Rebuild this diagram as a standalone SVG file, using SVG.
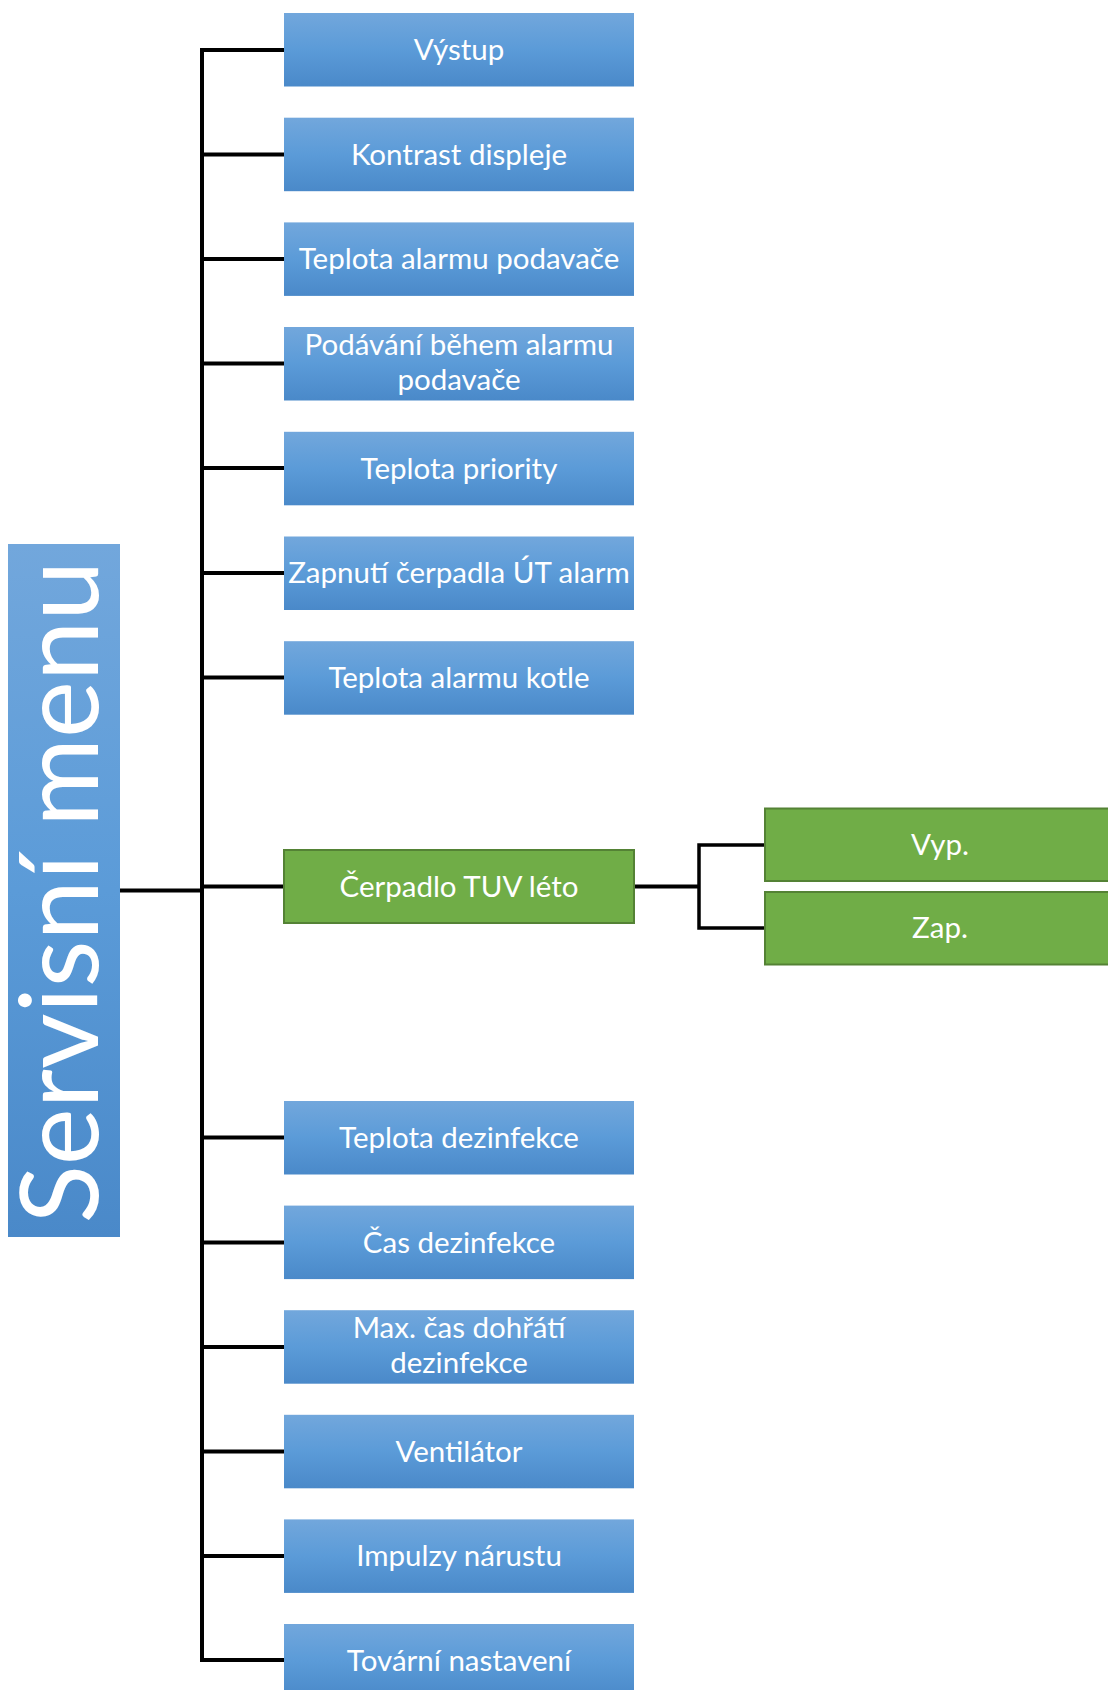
<svg xmlns="http://www.w3.org/2000/svg" width="1108" height="1690" viewBox="0 0 1108 1690">
<defs>
<linearGradient id="blue" x1="0" y1="0" x2="0" y2="1">
<stop offset="0" stop-color="#72a7dc"/>
<stop offset="0.5" stop-color="#5b9bd8"/>
<stop offset="1" stop-color="#4a89c9"/>
</linearGradient>
</defs>
<style>
.b{fill:url(#blue)}
.g{fill:#70ad47;stroke:#548235;stroke-width:2}
.t{fill:#fff;font-family:Lato,"Open Sans",sans-serif;font-size:29.5px;text-anchor:middle}
.big{fill:#fff;font-family:Lato,"Open Sans",sans-serif;font-size:108px;text-anchor:middle}
.c{fill:none;stroke:#000;stroke-width:4}
.c2{fill:none;stroke:#000;stroke-width:3.5}
</style>
<rect width="1108" height="1690" fill="#fff"/>
<g id="connectors">
<line class="c" x1="202" y1="48" x2="202" y2="1662"/>
<line class="c" x1="120" y1="890.5" x2="202" y2="890.5"/>
<line class="c" x1="200" y1="50" x2="284" y2="50"/>
<line class="c" x1="202" y1="154.5" x2="284" y2="154.5"/>
<line class="c" x1="202" y1="259" x2="284" y2="259"/>
<line class="c" x1="202" y1="363.5" x2="284" y2="363.5"/>
<line class="c" x1="202" y1="468" x2="284" y2="468"/>
<line class="c" x1="202" y1="573" x2="284" y2="573"/>
<line class="c" x1="202" y1="677.5" x2="284" y2="677.5"/>
<line class="c" x1="202" y1="886.5" x2="284" y2="886.5"/>
<line class="c" x1="202" y1="1137.5" x2="284" y2="1137.5"/>
<line class="c" x1="202" y1="1242.5" x2="284" y2="1242.5"/>
<line class="c" x1="202" y1="1347" x2="284" y2="1347"/>
<line class="c" x1="202" y1="1451.5" x2="284" y2="1451.5"/>
<line class="c" x1="202" y1="1556" x2="284" y2="1556"/>
<line class="c" x1="200" y1="1660" x2="284" y2="1660"/>
<line class="c" x1="634" y1="886.5" x2="699" y2="886.5"/>
<polyline class="c2" points="764,845 699,845 699,928 764,928"/>
</g>
<g id="servisni-menu">
<rect class="b" x="8" y="544" width="112" height="693"/>
<text class="big" transform="translate(98,892) rotate(-90)">Servisní menu</text>
</g>
<g id="vystup"><rect class="b" x="284" y="13" width="350" height="73.5"/><text class="t" x="459" y="60">Výstup</text></g>
<g id="kontrast"><rect class="b" x="284" y="117.7" width="350" height="73.5"/><text class="t" x="459" y="164.5">Kontrast displeje</text></g>
<g id="teplota-alarmu-podavace"><rect class="b" x="284" y="222.4" width="350" height="73.5"/><text class="t" x="459" y="269">Teplota alarmu podavače</text></g>
<g id="podavani"><rect class="b" x="284" y="327" width="350" height="73.5"/><text class="t" x="459" y="355">Podávání během alarmu</text><text class="t" x="459" y="389.5">podavače</text></g>
<g id="teplota-priority"><rect class="b" x="284" y="431.8" width="350" height="73.5"/><text class="t" x="459" y="478.5">Teplota priority</text></g>
<g id="zapnuti"><rect class="b" x="284" y="536.5" width="350" height="73.5"/><text class="t" x="459" y="583">Zapnutí čerpadla ÚT alarm</text></g>
<g id="teplota-kotle"><rect class="b" x="284" y="641.2" width="350" height="73.5"/><text class="t" x="459" y="688">Teplota alarmu kotle</text></g>
<g id="cerpadlo"><rect class="g" x="284" y="850" width="350" height="73"/><text class="t" x="459" y="896.5">Čerpadlo TUV léto</text></g>
<g id="vyp"><rect class="g" x="765" y="808.5" width="360" height="72.5"/><text class="t" x="940" y="855">Vyp.</text></g>
<g id="zap"><rect class="g" x="765" y="892" width="360" height="72.5"/><text class="t" x="940" y="938">Zap.</text></g>
<g id="teplota-dezinfekce"><rect class="b" x="284" y="1101" width="350" height="73.5"/><text class="t" x="459" y="1147.5">Teplota dezinfekce</text></g>
<g id="cas-dezinfekce"><rect class="b" x="284" y="1205.6" width="350" height="73.5"/><text class="t" x="459" y="1252.5">Čas dezinfekce</text></g>
<g id="max-cas"><rect class="b" x="284" y="1310.2" width="350" height="73.5"/><text class="t" x="459" y="1338">Max. čas dohřátí</text><text class="t" x="459" y="1373">dezinfekce</text></g>
<g id="ventilator"><rect class="b" x="284" y="1414.8" width="350" height="73.5"/><text class="t" x="459" y="1461.5">Ventilátor</text></g>
<g id="impulzy"><rect class="b" x="284" y="1519.4" width="350" height="73.5"/><text class="t" x="459" y="1566">Impulzy nárustu</text></g>
<g id="tovarni"><rect class="b" x="284" y="1624" width="350" height="73.5"/><text class="t" x="459" y="1670.5">Tovární nastavení</text></g>
</svg>
